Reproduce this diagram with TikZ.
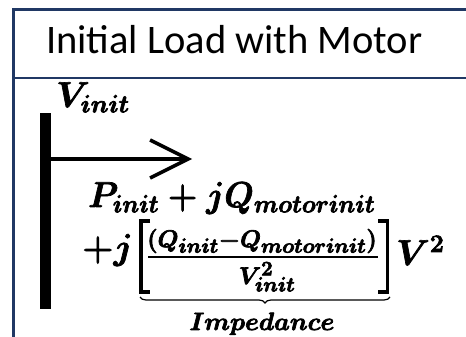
\RequirePackage{fix-cm}
\documentclass[tikz,border=0pt]{standalone}
\usepackage{fontspec}
\newfontfamily\titlefont{Carlito}
\usetikzlibrary{arrows.meta,decorations.pathreplacing}
\DeclareMathSizes{36}{36}{25}{18}
\DeclareMathSizes{24}{24}{20.5}{15}
\DeclareMathSizes{25}{25}{18}{13}
\definecolor{navy}{HTML}{203864}
\newcommand\heavytext[1]{\special{pdf:literal direct q 2 Tr 0.7 w 0 G}#1\special{pdf:literal direct Q}}
\tikzset{
  frame/.style={draw=navy, line width=2.8pt},
  eq/.style={inner sep=0pt, font=\fontsize{36}{36}\selectfont\boldmath},
  frac/.style={inner sep=0pt, font=\fontsize{24}{24}\selectfont\boldmath},
  lab/.style={inner sep=0pt, font=\fontsize{25}{25}\selectfont\boldmath},
  brk/.style={line width=3.2pt, line cap=butt, line join=miter},
}
\begin{document}
\begin{tikzpicture}[x=1pt,y=-1pt]
\useasboundingbox (0,0) rectangle (466,337);
% frame
\coordinate (tl) at (13.8,9.5);
\coordinate (tr) at (470,9.5);
\coordinate (ml) at (13.8,78);
\coordinate (mr) at (470,78);
\coordinate (bl) at (13.8,340);
\draw[frame] (tr) -- (tl) -- (bl);
\draw[frame] (ml) -- (mr);
% title
\node[anchor=base west, inner sep=0pt, font=\titlefont\fontsize{40.5}{40.5}\selectfont] (title) at (46,54) {Initial Load with Motor};
% bus bar
\node[fill=black, minimum width=11pt, minimum height=196pt, inner sep=0pt] (bus) at (45,211) {};
\node[eq, anchor=base west] (vinit) at (56,107) {\heavytext{$V_{init}$}};
% arrow
\coordinate (ahead) at (192,159);
\draw[line width=4pt, -{Straight Barb[length=38pt,width=38pt,line width=3.5pt]}] (bus.east |- ahead) -- (ahead);
% line 1
\node[eq, anchor=base west] (l1) at (88,207) {\heavytext{\scalebox{0.945}[1]{$P_{init}+jQ_{motorinit}$}}};
% line 2
\node[eq, anchor=base east] (pj) at (133,259) {\heavytext{$+j$}};
\node[frac, anchor=base] (num) at (262,247) {\heavytext{$(Q_{init}{-}Q_{motorinit})$}};
\coordinate (fl) at (148,257);
\coordinate (fr) at (378,257);
\draw[line width=1.6pt] (fl) -- (fr);
\node[frac, anchor=base] (den) at (267,284) {\heavytext{$V^2_{init}$}};
\draw[brk] (150,221) -- (141,221) -- (141,292) -- (150,292);
\draw[brk] (378,221) -- (387.5,221) -- (387.5,292) -- (378,292);
\node[eq, anchor=base west] (v2) at (396,265) {\heavytext{$V^2$}};
% underbrace
\coordinate (ubl) at (140,297);
\coordinate (ubr) at (390,297);
\draw[line width=1.2pt, decorate, decoration={brace, mirror, amplitude=6pt}] (ubl) -- (ubr);
\node[lab, anchor=base] (imp) at (262,330) {\heavytext{$Impedance$}};
\end{tikzpicture}
\end{document}
